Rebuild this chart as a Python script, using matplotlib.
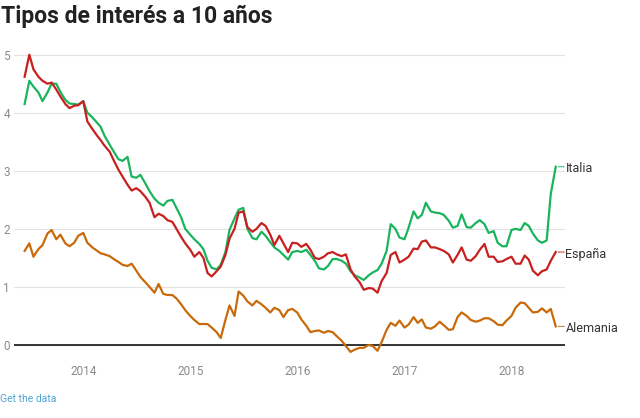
import matplotlib
matplotlib.use("Agg")
import matplotlib.pyplot as plt
import matplotlib.dates as mdates
import pandas as pd

# Datos: rendimiento del bono a 10 años (%), quincenal
fechas = pd.date_range("2013-06-15", "2018-06-01", freq="SMS")

italia = [
    4.15, 4.55, 4.45, 4.35, 4.20, 4.35, 4.50, 4.50, 4.36, 4.22,
    4.16, 4.15, 4.14, 4.20, 4.00, 3.92, 3.84, 3.76, 3.60, 3.45,
    3.33, 3.20, 3.17, 3.24, 2.90, 2.88, 2.93, 2.78, 2.65, 2.52,
    2.45, 2.40, 2.48, 2.50, 2.36, 2.20, 2.00, 1.90, 1.82, 1.74,
    1.65, 1.45, 1.33, 1.30, 1.38, 1.60, 1.98, 2.18, 2.33, 2.36,
    2.00, 1.84, 1.82, 1.95, 1.88, 1.77, 1.68, 1.62, 1.55, 1.47,
    1.60, 1.62, 1.60, 1.64, 1.55, 1.45, 1.32, 1.30, 1.36, 1.48,
    1.48, 1.45, 1.40, 1.27, 1.20, 1.16, 1.12, 1.20, 1.25, 1.29,
    1.40, 1.62, 2.08, 2.00, 1.85, 1.82, 2.02, 2.30, 2.18, 2.24,
    2.45, 2.30, 2.28, 2.27, 2.24, 2.14, 2.02, 2.05, 2.25, 2.03,
    2.02, 2.10, 2.15, 2.08, 1.93, 1.96, 1.76, 1.70, 1.70, 1.98,
    2.00, 1.98, 2.10, 2.05, 1.92, 1.80, 1.76, 1.80, 2.60, 3.07,
]

espana = [
    4.62, 5.00, 4.75, 4.62, 4.55, 4.50, 4.52, 4.40, 4.28, 4.15,
    4.08, 4.12, 4.13, 4.20, 3.85, 3.72, 3.62, 3.53, 3.43, 3.33,
    3.18, 3.02, 2.90, 2.76, 2.66, 2.70, 2.65, 2.55, 2.45, 2.20,
    2.26, 2.22, 2.15, 2.12, 2.00, 1.86, 1.75, 1.64, 1.52, 1.60,
    1.50, 1.24, 1.18, 1.27, 1.35, 1.55, 1.83, 2.00, 2.28, 2.30,
    2.03, 1.95, 2.00, 2.10, 2.05, 1.90, 1.72, 1.88, 1.75, 1.60,
    1.76, 1.75, 1.69, 1.74, 1.64, 1.50, 1.48, 1.52, 1.58, 1.60,
    1.56, 1.53, 1.56, 1.30, 1.18, 1.08, 0.95, 0.98, 0.97, 0.90,
    1.10, 1.24, 1.55, 1.60, 1.42, 1.47, 1.52, 1.66, 1.65, 1.78,
    1.80, 1.68, 1.68, 1.65, 1.62, 1.56, 1.42, 1.55, 1.68, 1.47,
    1.45, 1.53, 1.64, 1.74, 1.52, 1.52, 1.43, 1.44, 1.48, 1.52,
    1.40, 1.40, 1.54, 1.47, 1.28, 1.20, 1.27, 1.30, 1.45, 1.60,
]

alemania = [
    1.62, 1.75, 1.52, 1.65, 1.72, 1.92, 1.98, 1.82, 1.90, 1.75,
    1.70, 1.76, 1.88, 1.93, 1.76, 1.68, 1.63, 1.58, 1.56, 1.53,
    1.48, 1.43, 1.38, 1.36, 1.40, 1.28, 1.17, 1.08, 1.00, 0.90,
    1.05, 0.88, 0.86, 0.86, 0.80, 0.70, 0.60, 0.50, 0.43, 0.36,
    0.36, 0.36, 0.30, 0.22, 0.12, 0.43, 0.68, 0.50, 0.92, 0.85,
    0.75, 0.68, 0.76, 0.70, 0.64, 0.56, 0.64, 0.60, 0.48, 0.60,
    0.62, 0.56, 0.44, 0.33, 0.22, 0.24, 0.25, 0.21, 0.24, 0.22,
    0.15, 0.07, -0.02, -0.12, -0.08, -0.05, -0.05, 0.00, -0.02, -0.10,
    0.05, 0.26, 0.38, 0.33, 0.42, 0.30, 0.35, 0.48, 0.38, 0.44,
    0.30, 0.28, 0.32, 0.40, 0.34, 0.26, 0.27, 0.48, 0.56, 0.50,
    0.43, 0.40, 0.42, 0.46, 0.46, 0.41, 0.35, 0.34, 0.42, 0.50,
    0.64, 0.73, 0.72, 0.64, 0.56, 0.57, 0.63, 0.56, 0.62, 0.32,
]

series = [
    ("Italia", italia, "#1bb45e"),
    ("España", espana, "#c7201f"),
    ("Alemania", alemania, "#c96a0a"),
]

plt.rcParams["font.family"] = ["Roboto", "DejaVu Sans"]

fig = plt.figure(figsize=(6.4, 4.18), dpi=100)
fig.patch.set_facecolor("white")
ax = fig.add_axes([0.022, 0.147, 0.861, 0.743])

for nombre, valores, color in series:
    ax.plot(fechas, valores, color=color, lw=1.6, solid_joinstyle="round", zorder=3)
    # etiqueta al final de la línea
    ax.annotate(
        "", xy=(fechas[-1], valores[-1]), xytext=(6, 0), textcoords="offset points",
        arrowprops=dict(arrowstyle="-", color=color, lw=0.8, linestyle=(0, (1, 1)),
                        shrinkA=0, shrinkB=1.5),
    )
    ax.annotate(
        nombre, xy=(fechas[-1], valores[-1]), xytext=(7, -1.5), textcoords="offset points",
        va="center", ha="left", fontsize=9, color="#333333", annotation_clip=False,
    )

ax.set_xlim(pd.Timestamp("2013-05-10"), pd.Timestamp("2018-07-03"))
ax.set_ylim(-0.2, 5.15)

ax.set_yticks([0, 1, 2, 3, 4, 5])
ax.set_yticklabels(["0", "1", "2", "3", "4", "5"])
ax.xaxis.set_major_locator(mdates.YearLocator())
ax.xaxis.set_major_formatter(mdates.DateFormatter("%Y"))

ax.grid(axis="y", color="#e3e3e3", lw=0.8, zorder=0)
ax.axhline(0, color="black", lw=1.1, zorder=2)

for s in ax.spines.values():
    s.set_visible(False)
ax.tick_params(axis="both", length=0, labelsize=8.5, labelcolor="#8a8a8a")
ax.tick_params(axis="y", pad=3)
ax.tick_params(axis="x", pad=6)

fig.text(0.002, 1 - 16 / 418, "Tipos de interés a 10 años", fontsize=16.5,
         fontweight="bold", color="#222222", va="center", ha="left")
fig.text(0.0, 1 - 399 / 418, "Get the data", fontsize=7.5, color="#4da4d6",
         va="center", ha="left")

fig.savefig("out.png", dpi=100, facecolor=fig.get_facecolor())
